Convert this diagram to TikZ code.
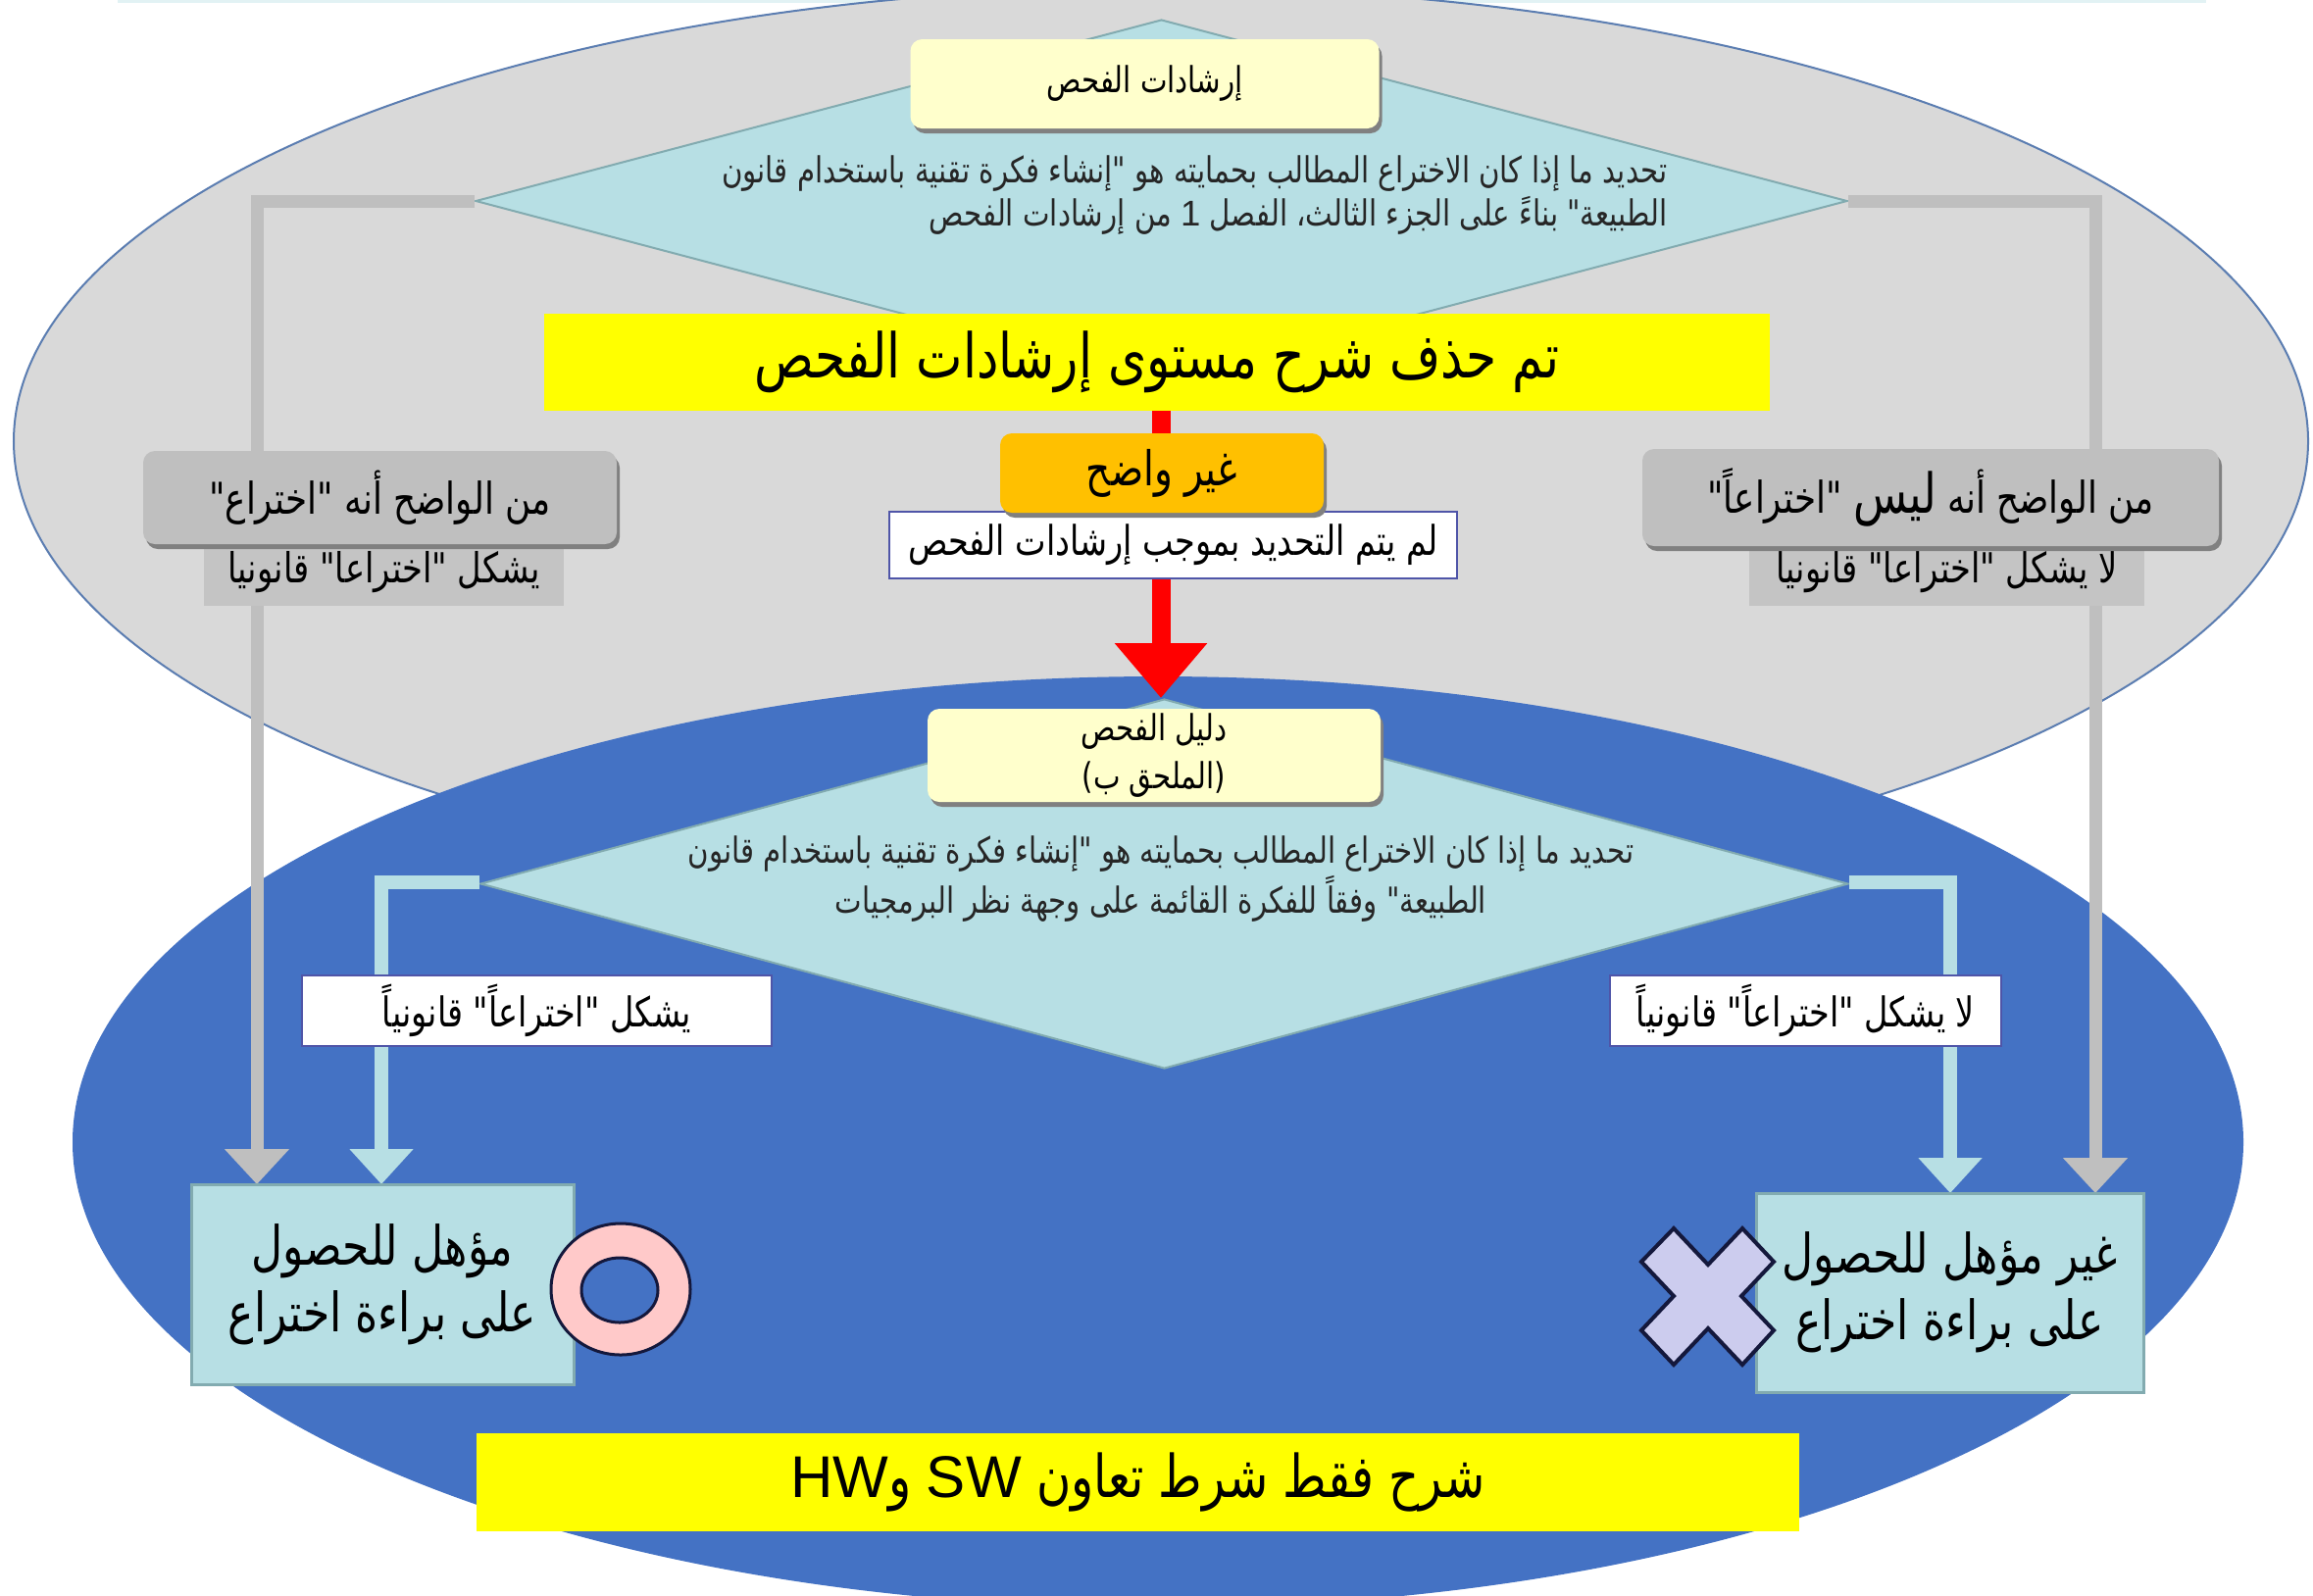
\documentclass[tikz,border=0pt]{standalone}
\usepackage{fontspec}
\usepackage{xcolor}
\usetikzlibrary{shapes.geometric,arrows.meta,shadows}
\TeXXeTstate=1
\newfontfamily\arabicfont[Script=Arabic,FakeStretch=0.8]{DejaVu Sans}
\newfontfamily\latinfont{Liberation Sans}
\newcommand{\artext}[1]{\beginR #1\endR}
\definecolor{greyfill}{HTML}{D9D9D9}
\definecolor{planblue}{HTML}{4472C4}
\definecolor{paleteal}{HTML}{B7DFE4}
\definecolor{tealedge}{HTML}{82ABB0}
\definecolor{creamfill}{HTML}{FFFFCC}
\definecolor{midgrey}{HTML}{BFBFBF}
\definecolor{ovaledge}{HTML}{5B7DB1}
\definecolor{tagedge}{HTML}{4F55A8}
\definecolor{bannerfill}{HTML}{FFFF00}
\definecolor{ambfill}{HTML}{FFC000}
\definecolor{ringfill}{HTML}{FFC9C9}
\definecolor{crossfill}{HTML}{CCCCEE}
\definecolor{darkedge}{HTML}{14183C}
\tikzset{
   planoval/.style={draw=none, fill=#1},
   rhomb/.style={diamond, draw=tealedge, fill=paleteal, line width=0.02cm, inner sep=0pt, aspect=1},
   bodytext/.style={inner sep=0pt, text=black!85, font=\arabicfont\fontsize{10.4}{12.6}\selectfont},
   raised/.style={rounded corners=0.12cm, inner sep=0pt, copy shadow={shadow xshift=0.03cm, shadow yshift=-0.05cm, fill=black!50, draw=none, opacity=1}},
   headbox/.style={raised, fill=creamfill, font=\arabicfont\fontsize{10.4}{13.9}\selectfont},
   verdict/.style={raised, fill=midgrey, font=\arabicfont\fontsize{12.7}{14}\selectfont},
   tagbox/.style={inner sep=0pt, fill=white, draw=tagedge, line width=0.02cm, font=\arabicfont\fontsize{11.9}{14}\selectfont},
   greytag/.style={inner sep=0pt, fill=midgrey!92!white, font=\arabicfont\fontsize{12}{14}\selectfont},
   banner/.style={inner sep=0pt, fill=bannerfill, font=\arabicfont\fontsize{17.9}{20}\selectfont},
   resultbox/.style={inner sep=0pt, fill=paleteal, draw=tealedge, line width=0.03cm, font=\arabicfont\fontsize{15.7}{19.3}\selectfont},
   greyline/.style={draw=midgrey, line width=0.13cm, -{Triangle[width=0.64cm,length=0.36cm]}},
   tealline/.style={draw=paleteal, line width=0.14cm, -{Triangle[width=0.63cm,length=0.36cm]}},
   redline/.style={draw=red, line width=0.19cm, -{Triangle[width=0.91cm,length=0.56cm]}}
}
\begin{document}
\begin{tikzpicture}[y=-1cm]
   \clip (0,0) rectangle (23.59,16.27);
   \fill[white] (0,0) rectangle (23.59,16.27);
   \draw[paleteal!40!white, line width=0.03cm] (1.2,0.01) -- (22.5,0.01);
   % the two ovals
   \path[planoval=greyfill, draw=ovaledge, line width=0.02cm] (11.84,4.5) ellipse (11.7 and 4.63);
   \path[planoval=planblue] (11.81,11.65) ellipse (11.07 and 4.75);
   % upper half
   \node[rhomb, minimum width=13.99cm, minimum height=3.7cm] (guidelines) at (11.845,2.05) {};
   \node[rhomb, minimum width=13.95cm, minimum height=3.77cm] (manual) at (11.875,9.015) {};
   \coordinate (bendL) at (2.62,2.05);
   \coordinate (bendR) at (21.37,2.05);
   \coordinate (bendLm) at (3.89,9.0);
   \coordinate (bendRm) at (19.89,9.0);
   \coordinate (tipL) at (2.62,12.08);
   \coordinate (tipLm) at (3.89,12.08);
   \coordinate (tipR) at (21.37,12.17);
   \coordinate (tipRm) at (19.89,12.17);
   \draw[greyline] (guidelines.east) -- (bendR) -- (tipR);
   \draw[greyline] (guidelines.west) -- (bendL) -- (tipL);
   \draw[tealline] (manual.west |- bendLm) -- (bendLm) -- (tipLm);
   \draw[tealline] (manual.east |- bendRm) -- (bendRm) -- (tipRm);
   \node[banner, minimum width=12.5cm, minimum height=0.99cm] (cutA) at (11.8,3.69) {\artext{تم حذف شرح مستوى إرشادات الفحص}};
   \coordinate (redTip) at (11.84,7.12);
   \draw[redline] (cutA.south -| redTip) -- (redTip);
   \node[headbox, minimum width=4.78cm, minimum height=0.91cm] (headA) at (11.675,0.855) {\artext{إرشادات الفحص}};
   \node[bodytext, align=right, anchor=east] (askA) at (17.01,1.99) {\artext{تحديد ما إذا كان الاختراع المطالب بحمايته هو "إنشاء فكرة تقنية باستخدام قانون}\\\artext{الطبيعة" بناءً على الجزء الثالث، الفصل {\latinfont 1} من إرشادات الفحص}};
   \node[greytag, minimum width=3.67cm, minimum height=0.8cm] (tagL) at (3.915,5.78) {\artext{يشكل "اختراعاً" قانونياً}};
   \node[verdict, minimum width=4.83cm, minimum height=0.95cm] (clearL) at (3.875,5.075) {\artext{من الواضح أنه "اختراع"}};
   \node[greytag, minimum width=4.03cm, minimum height=0.8cm] (tagR) at (19.855,5.78) {\artext{لا يشكل "اختراعاً" قانونياً}};
   \node[verdict, minimum width=5.88cm, minimum height=0.99cm] (clearR) at (19.69,5.075) {\artext{من الواضح أنه {\fontsize{16}{16}\selectfont ليس} "اختراعاً"}};
   \node[tagbox, minimum width=5.79cm, minimum height=0.68cm] (unset) at (11.965,5.56) {\artext{لم يتم التحديد بموجب إرشادات الفحص}};
   \node[verdict, fill=ambfill, minimum width=3.3cm, minimum height=0.81cm, font=\arabicfont\fontsize{13.9}{14}\selectfont] (unclear) at (11.85,4.825) {\artext{غير واضح}};
   % lower half
   \node[headbox, minimum width=4.62cm, minimum height=0.95cm, align=center] (headB) at (11.77,7.705) {\artext{دليل الفحص}\\\artext{(الملحق ب)}};
   \node[bodytext, align=center] (askB) at (11.84,8.965) {\artext{تحديد ما إذا كان الاختراع المطالب بحمايته هو "إنشاء فكرة تقنية باستخدام قانون}\\\artext{الطبيعة" وفقاً للفكرة القائمة على وجهة نظر البرمجيات}};
   \node[tagbox, minimum width=4.79cm, minimum height=0.72cm] (yesTag) at (5.475,10.31) {\artext{يشكل "اختراعاً" قانونياً}};
   \node[tagbox, minimum width=3.99cm, minimum height=0.72cm] (noTag) at (18.415,10.31) {\artext{لا يشكل "اختراعاً" قانونياً}};
   \node[resultbox, minimum width=3.9cm, minimum height=2.04cm, align=center] (eligible) at (3.9,13.1) {\artext{مؤهل للحصول}\\\artext{على براءة اختراع}};
   \node[resultbox, minimum width=3.95cm, minimum height=2.03cm, align=center] (ineligible) at (19.885,13.185) {\artext{غير مؤهل للحصول}\\\artext{على براءة اختراع}};
   \draw[draw=darkedge, fill=ringfill, line width=0.03cm, even odd rule] (6.33,13.15) ellipse (0.71 and 0.67) (6.32,13.16) ellipse (0.39 and 0.33);
   \filldraw[draw=darkedge, fill=crossfill, line width=0.04cm] (17.07,12.53) -- (17.42,12.9) -- (17.77,12.53) -- (18.09,12.87) -- (17.76,13.22) -- (18.09,13.57) -- (17.77,13.92) -- (17.42,13.55) -- (17.07,13.92) -- (16.74,13.57) -- (17.07,13.22) -- (16.74,12.87) -- cycle;
   \node[banner, minimum width=13.49cm, minimum height=1.0cm, font=\arabicfont\fontsize{17.1}{20}\selectfont] (cutB) at (11.605,15.12) {\artext{شرح فقط شرط تعاون \beginL{\latinfont SW}\endL{} و\beginL{\latinfont HW}\endL}};
\end{tikzpicture}
\end{document}
